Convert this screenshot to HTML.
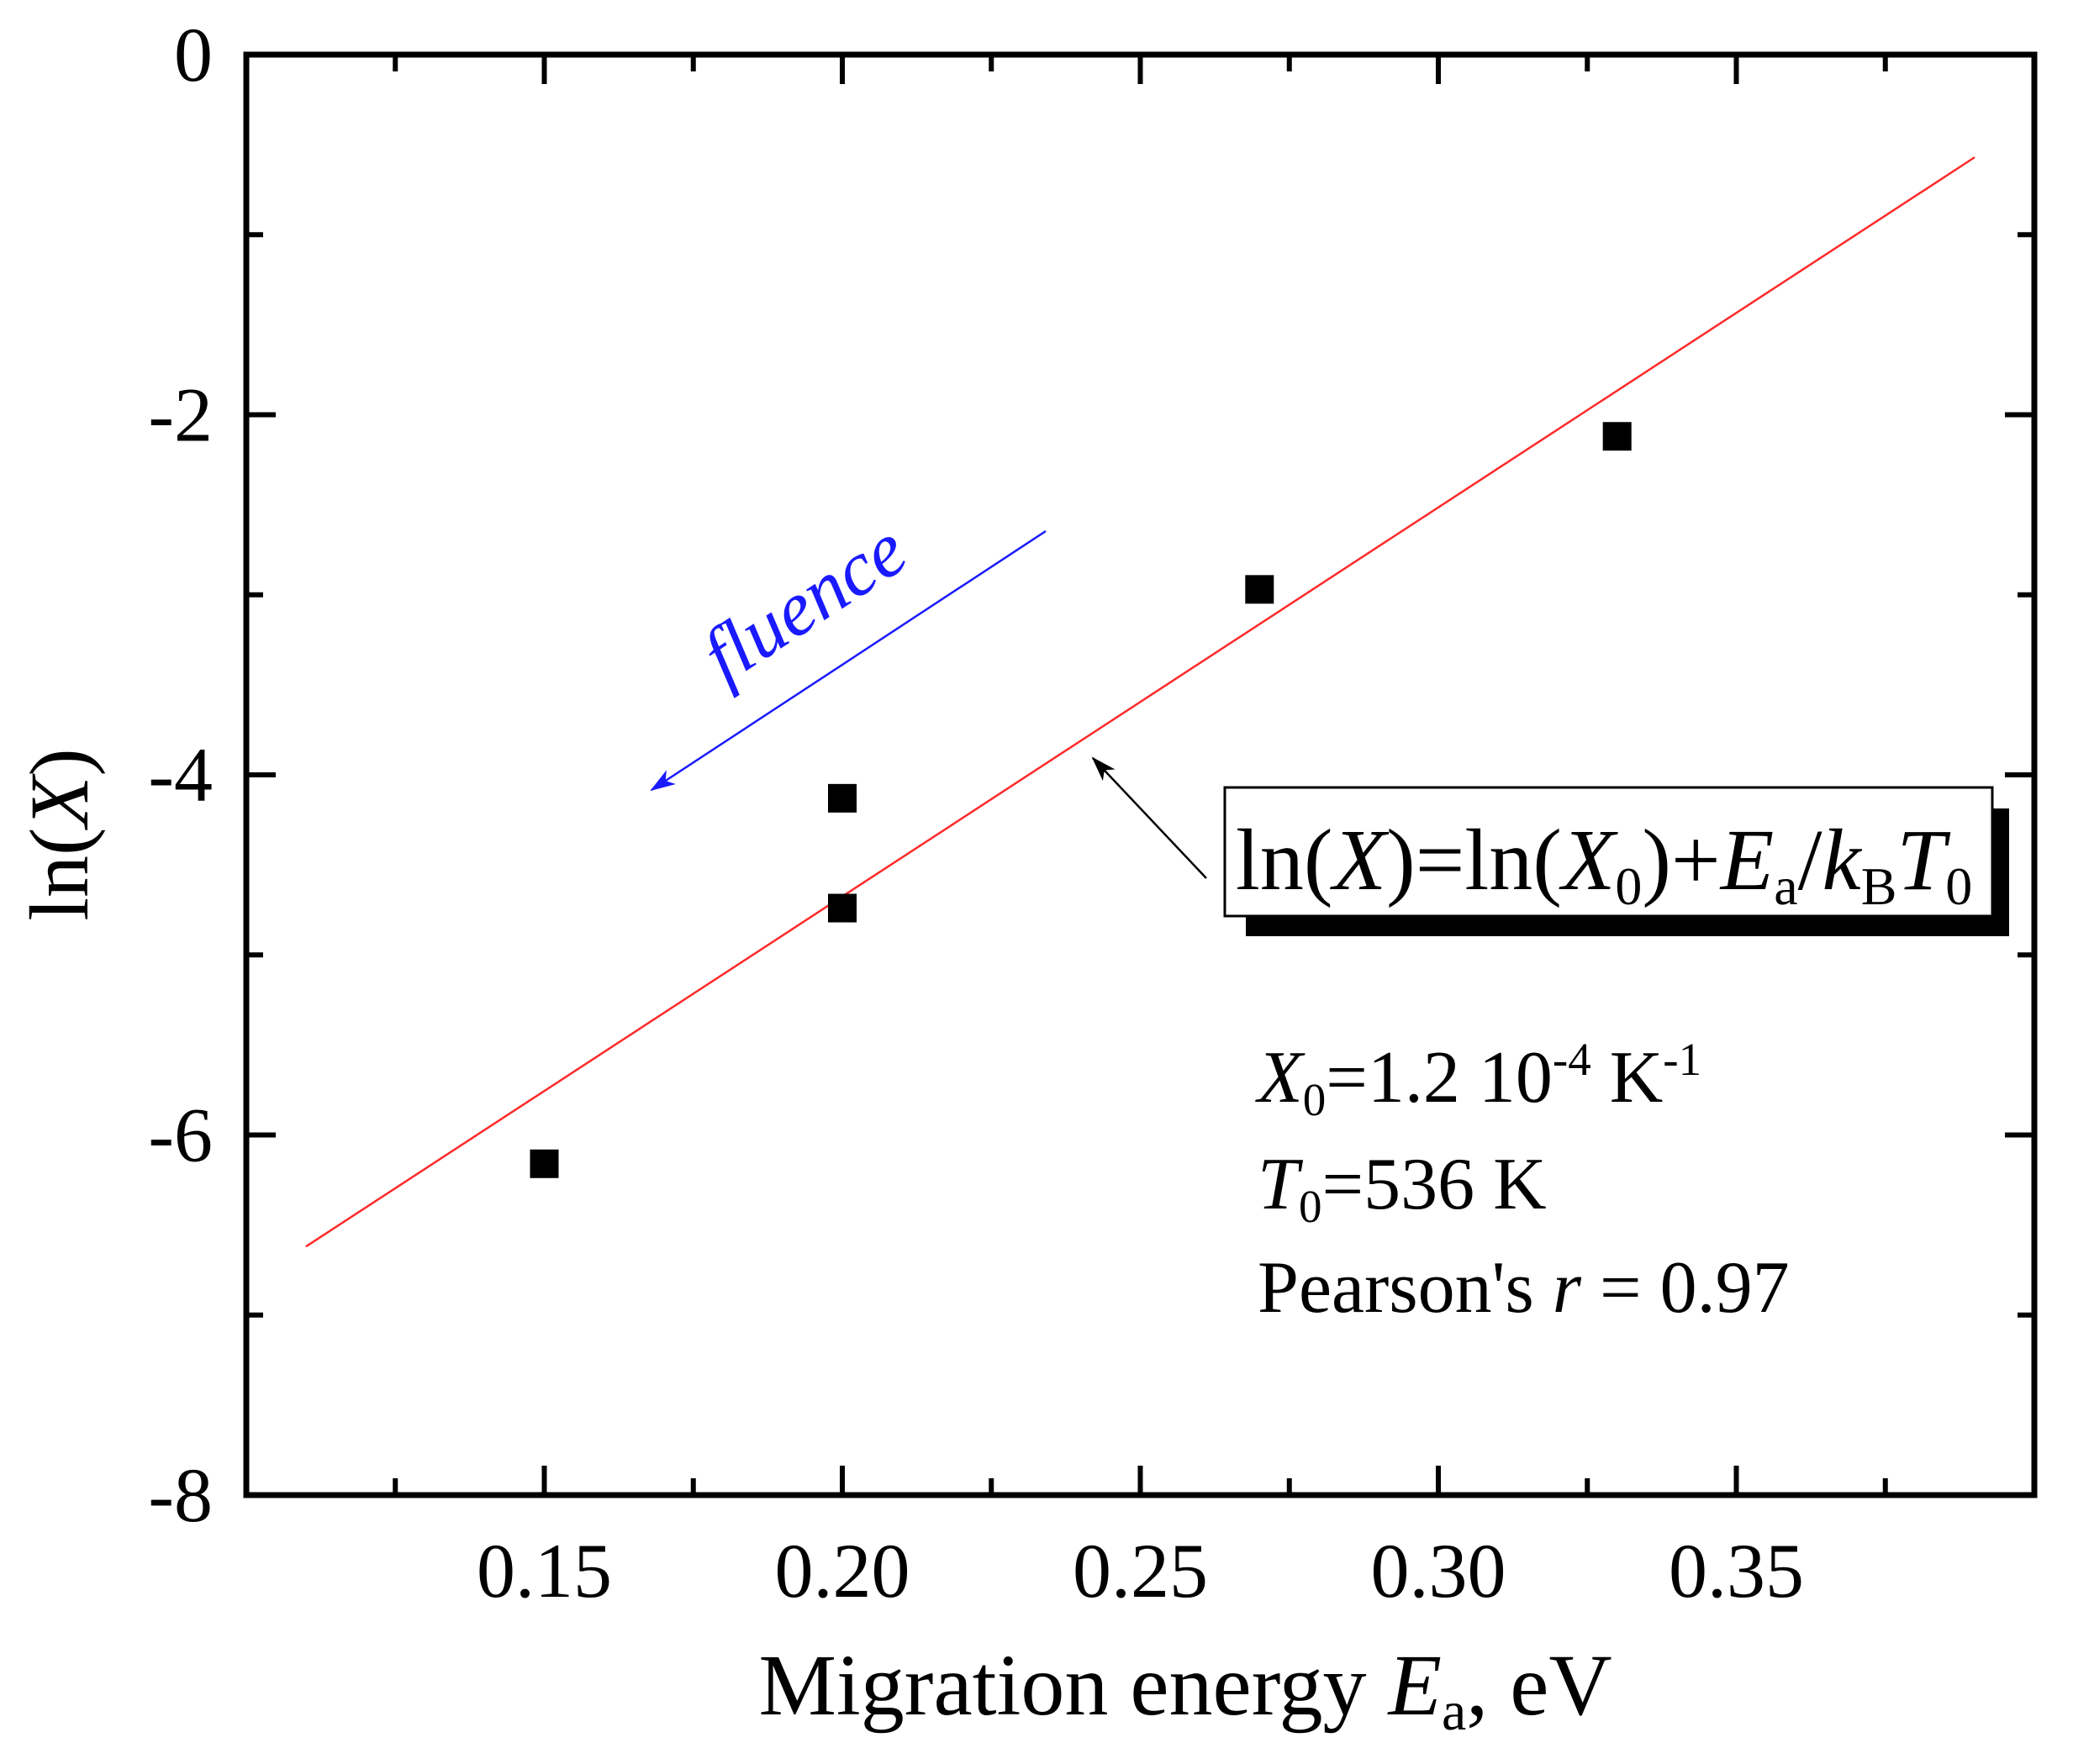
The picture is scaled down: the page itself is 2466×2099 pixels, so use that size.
<!DOCTYPE html>
<html><head><meta charset="utf-8"><style>
html,body{margin:0;padding:0;background:#fff;}
svg{display:block;}
text{font-family:"Liberation Serif",serif;fill:#000;}
</style></head><body>
<svg id="chart" width="2466" height="2099" viewBox="0 0 2466 2099" xmlns="http://www.w3.org/2000/svg">
<g id="plot"></g>
</svg>
<script>
const xTicks=[0.15,0.20,0.25,0.30,0.35];
const xTickLabels=["0.15","0.20","0.25","0.30","0.35"];
const yTicks=[0,-2,-4,-6,-8];
const yTickLabels=["0","-2","-4","-6","-8"];
const pointsX=[0.15,0.20,0.20,0.27,0.33];
const pointsY=[-6.16,-4.13,-4.74,-2.97,-2.12];
const fitX=[0.11,0.39];
const fitY=[-6.62,-0.57];

const L=293,R=2420,T=65,B=1779;
const xMin=0.10,xMax=0.40,yMin=-8,yMax=0;
function sx(v){return L+(v-xMin)/(xMax-xMin)*(R-L);}
function sy(v){return B-(v-yMin)/(yMax-yMin)*(B-T);}
const NS="http://www.w3.org/2000/svg";
const g=document.getElementById('plot');
function el(tag,attrs,parent){const e=document.createElementNS(NS,tag);for(const k in attrs)e.setAttribute(k,attrs[k]);(parent||g).appendChild(e);return e;}

const frame=el('rect',{x:L,y:T,width:R-L,height:B-T,fill:'none',stroke:'#000','stroke-width':7});



for(let v=0.125;v<0.4;v+=0.025){
  const major=Math.abs((v*20)-Math.round(v*20))<1e-6;
  const len=major?35:20;const x=sx(v);
  const t1=el('line',{x1:x,y1:B,x2:x,y2:B-len,stroke:'#000','stroke-width':6});
  
  
  const t2=el('line',{x1:x,y1:T,x2:x,y2:T+len,stroke:'#000','stroke-width':6});
  
  
}
for(let v=-7;v<0;v+=1){
  const major=(v%2===0);const len=major?35:20;const y=sy(v);
  const t1=el('line',{x1:L,y1:y,x2:L+len,y2:y,stroke:'#000','stroke-width':6});
  
  
  const t2=el('line',{x1:R,y1:y,x2:R-len,y2:y,stroke:'#000','stroke-width':6});
  
  
}
xTicks.forEach((v,i)=>{
  const t=el('text',{x:sx(v),y:1900,'font-size':92,'text-anchor':'middle'});
  t.textContent=xTickLabels[i];
  
  
});
yTicks.forEach((v,i)=>{
  const t=el('text',{x:253,y:sy(v)+31,'font-size':92,'text-anchor':'end'});
  t.textContent=yTickLabels[i];
  
  
});

const fit=el('line',{x1:sx(fitX[0]),y1:sy(fitY[0]),x2:sx(fitX[1]),y2:sy(fitY[1]),stroke:'#ff2a2a','stroke-width':2.5});



pointsX.forEach((v,i)=>{
  const s=34;
  const r=el('rect',{x:sx(v)-s/2,y:sy(pointsY[i])-s/2,width:s,height:s,fill:'#000'});
  
  
});
</script>
<svg width="2466" height="2099" style="position:absolute;left:0;top:0" xmlns="http://www.w3.org/2000/svg">
<defs>
<marker id="ahB" markerWidth="30" markerHeight="20" refX="28" refY="10" orient="auto" markerUnits="userSpaceOnUse" viewBox="0 0 30 20"><path d="M0,0 L30,10 L0,20 L8,10 z" fill="#1a1aff"/></marker>
<marker id="ahK" markerWidth="30" markerHeight="20" refX="28" refY="10" orient="auto" markerUnits="userSpaceOnUse" viewBox="0 0 30 20"><path d="M0,0 L30,10 L0,20 L8,10 z" fill="#000"/></marker>
</defs>
<line x1="1244" y1="632" x2="775" y2="940" stroke="#1a1aff" stroke-width="2.5" marker-end="url(#ahB)"/>
<text x="0" y="0" font-size="92" font-style="italic" style="fill:#1a1aff" transform="translate(862,815) rotate(-33)">fluence</text>
<line x1="1435" y1="1045" x2="1300" y2="902" stroke="#000" stroke-width="2.5" marker-end="url(#ahK)"/>
<rect x="1482" y="962" width="908" height="152" fill="#000"/>
<rect x="1457" y="937" width="913" height="153" fill="#fff" stroke="#000" stroke-width="3"/>
<text x="1470" y="1058" font-size="104">ln(<tspan font-style="italic">X</tspan>)=ln(<tspan font-style="italic">X</tspan><tspan font-size="64" dy="18">0</tspan><tspan dy="-18">)+</tspan><tspan font-style="italic">E</tspan><tspan font-size="64" dy="18">a</tspan><tspan dy="-18">/</tspan><tspan font-style="italic">k</tspan><tspan font-size="64" dy="18">B</tspan><tspan dy="-18" font-style="italic">T</tspan><tspan font-size="64" dy="18">0</tspan></text>
<text x="1496" y="1311" font-size="88"><tspan font-style="italic">X</tspan><tspan font-size="55" dy="16">0</tspan><tspan dy="-16">=1.2 10</tspan><tspan font-size="55" dy="-32">-4</tspan><tspan dy="32"> K</tspan><tspan font-size="55" dy="-32">-1</tspan></text>
<text x="1496" y="1438" font-size="88"><tspan font-style="italic">T</tspan><tspan font-size="55" dy="16">0</tspan><tspan dy="-16">=536 K</tspan></text>
<text x="1496" y="1561" font-size="88">Pearson's <tspan font-style="italic">r</tspan> = 0.97</text>
<text x="1410" y="2040" font-size="104" text-anchor="middle">Migration energy <tspan font-style="italic">E</tspan><tspan font-size="66" dy="18">a</tspan><tspan dy="-18">, eV</tspan></text>
<text x="0" y="0" font-size="100" text-anchor="middle" transform="translate(104,993) rotate(-90)">ln(<tspan font-style="italic">X</tspan>)</text>
</svg>
</body></html>
